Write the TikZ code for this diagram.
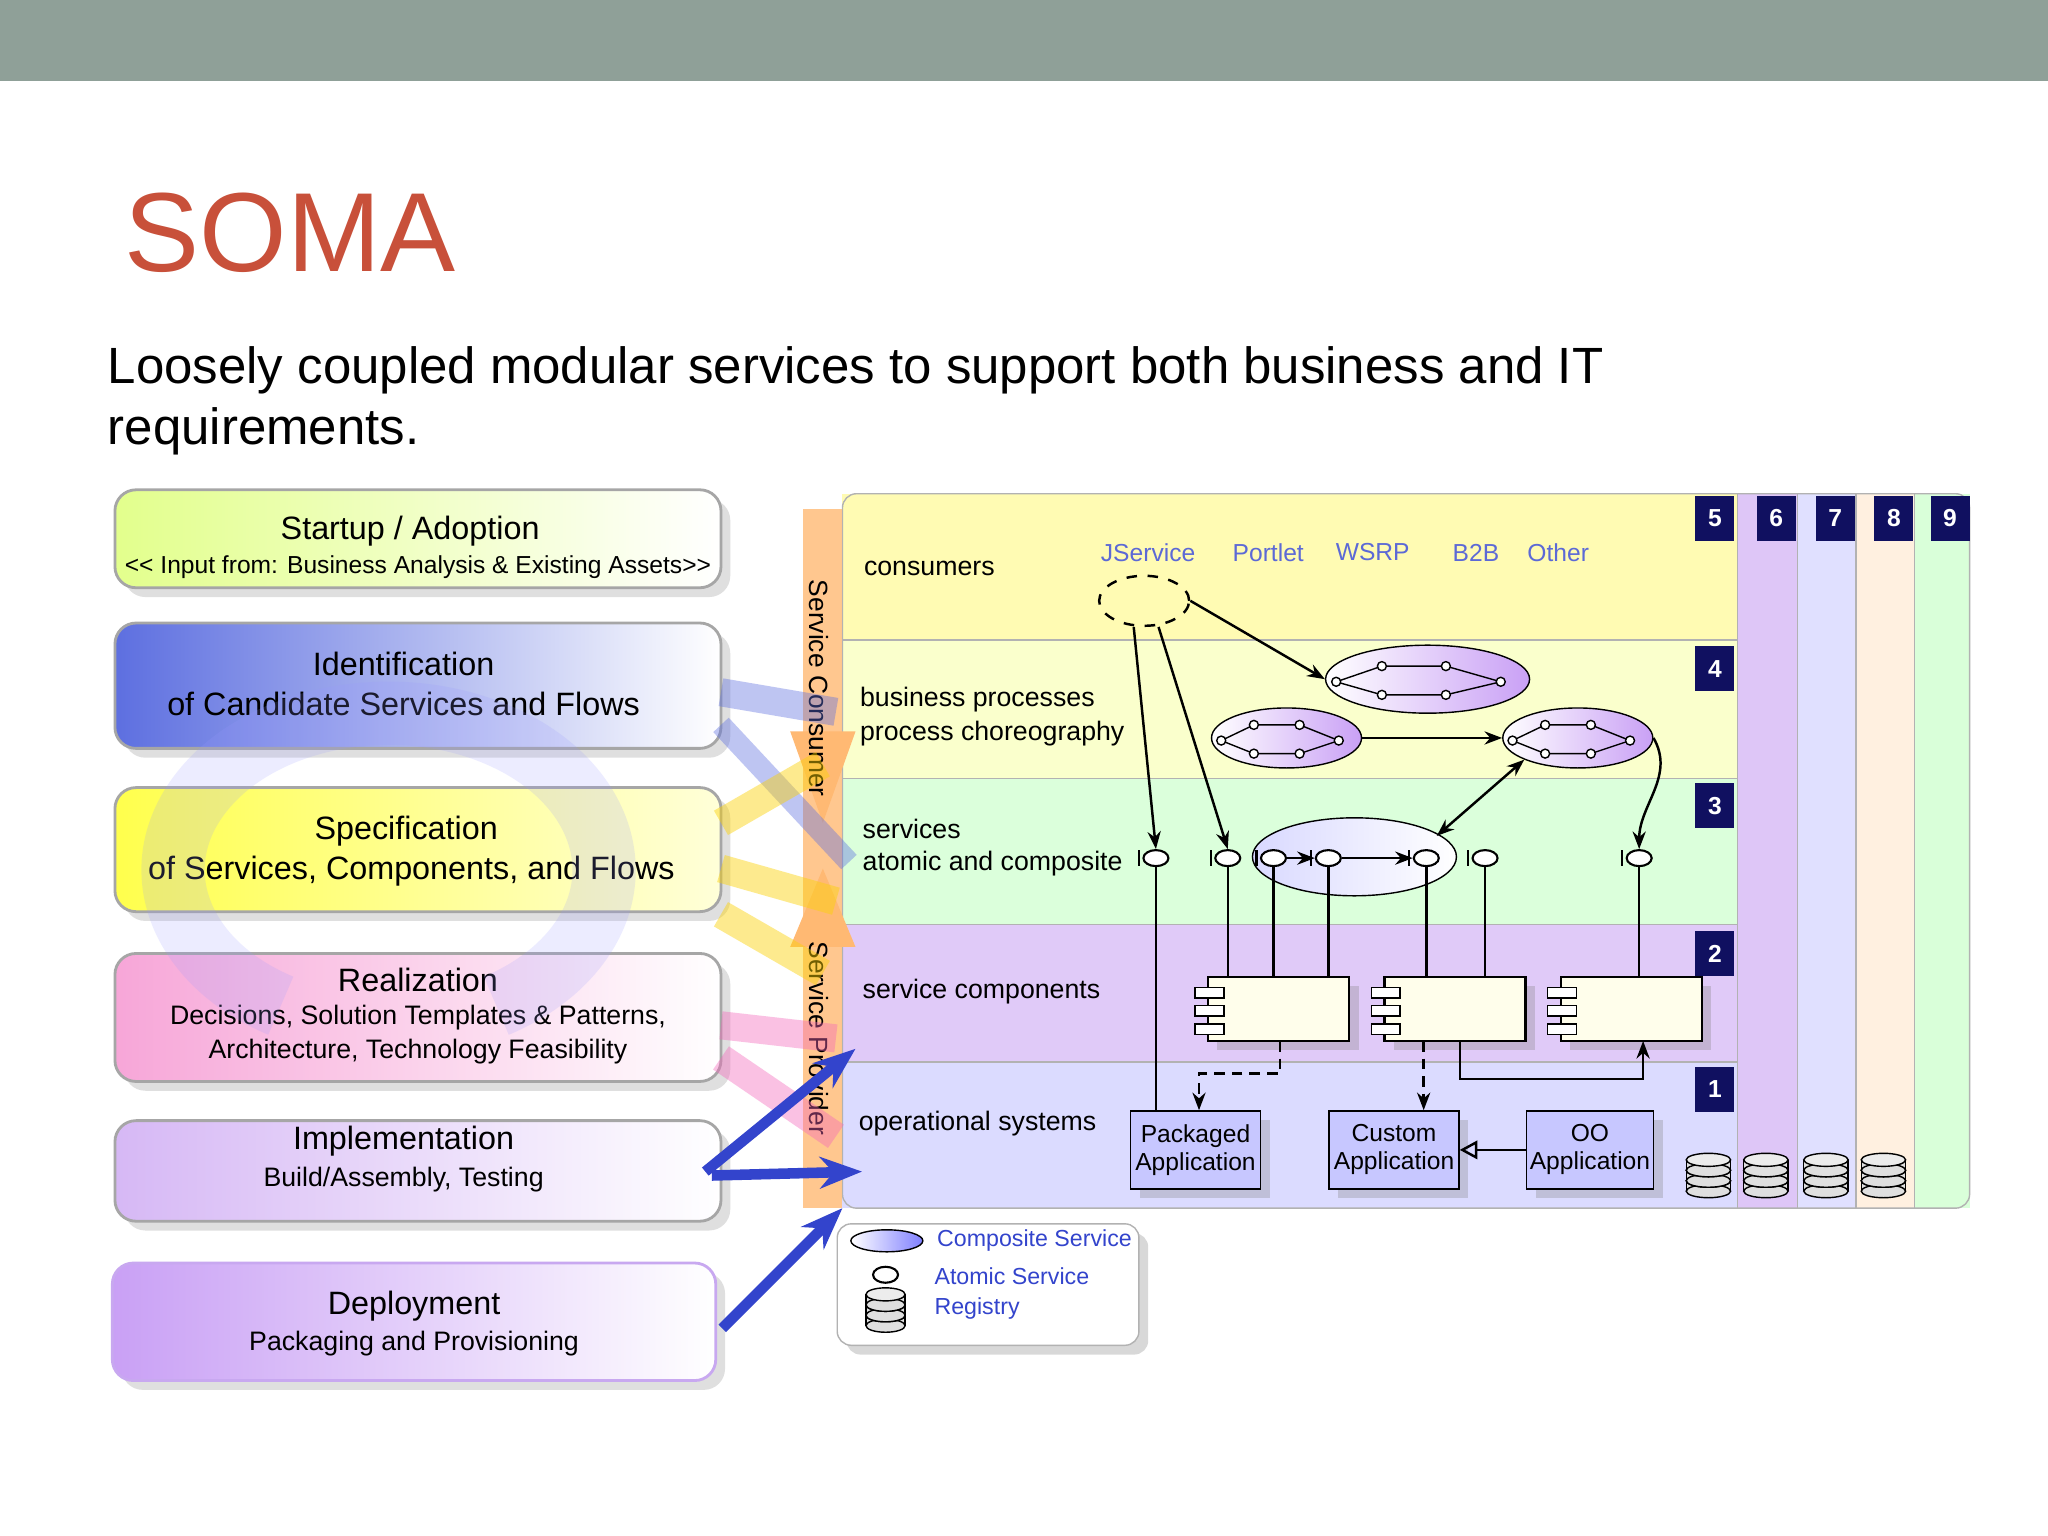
\documentclass[tikz,border=0pt]{standalone}
\usepackage{fontspec}
\setmainfont{Liberation Sans}
\usetikzlibrary{arrows.meta,shapes.geometric,shadows}
\definecolor{bar}{HTML}{8FA098}
\definecolor{soma}{HTML}{C8503A}
\definecolor{navy}{HTML}{101060}
\definecolor{lblue}{HTML}{3344CC}
\definecolor{lav}{HTML}{D6B8F5}
\definecolor{lavd}{HTML}{C9A0F5}
\definecolor{idb}{HTML}{5D6FE0}
\definecolor{pk}{HTML}{F7A6D8}
\definecolor{purp}{HTML}{C8A8F0}
\begin{document}
\begin{tikzpicture}[x=0.013061cm,y=-0.013061cm,
  lbox/.style={draw=gray!70,rounded corners=6pt,line width=0.8pt,drop shadow={opacity=0.25}},
  big/.style={font=\fontsize{9.2}{11}\selectfont},
  sml/.style={font=\fontsize{7.6}{9}\selectfont},
  dl/.style={font=\fontsize{7.6}{9}\selectfont,anchor=west},
  bl/.style={font=\fontsize{7}{8}\selectfont,text=lblue!80},
  lgt/.style={font=\fontsize{6.6}{8}\selectfont,text=lblue,anchor=west},
  tab/.style={fill=navy,text=white,font=\bfseries\fontsize{7}{8}\selectfont,inner sep=0pt,minimum width=0.39cm,minimum height=0.45cm},
  atom/.style={draw,fill=white,ellipse,minimum width=0.25cm,minimum height=0.16cm,inner sep=0pt,line width=0.6pt},
  dot/.style={draw,fill=white,circle,inner sep=0pt,minimum size=0.09cm,line width=0.4pt},
  comp/.style={draw,fill=yellow!8,line width=0.7pt,drop shadow={opacity=0.3}},
  app/.style={draw,fill=blue!22,minimum width=1.3cm,minimum height=0.78cm,drop shadow={opacity=0.3},font=\fontsize{7}{8}\selectfont,align=center,inner sep=1pt,anchor=north west},
  ar/.style={-{Stealth[length=5pt]},line width=0.7pt}]
\useasboundingbox (0,0) rectangle (1568,1176);
\fill[white] (0,0) rectangle (1568,1176);
\fill[bar] (0,0) rectangle (1568,62);
\node[anchor=base west,text=soma,font=\fontsize{32}{38}\selectfont,inner sep=0] (t) at (95,208) {SOMA};
\node[anchor=base west,font=\fontsize{14.5}{17}\selectfont,inner sep=0] (s1) at (82,294) {Loosely coupled modular services to support both business and IT};
\node[anchor=base west,font=\fontsize{14.5}{17}\selectfont,inner sep=0] (s2) at (82,340) {requirements.};
% left boxes
\draw[lbox,left color=green!25!yellow!45,right color=white] (88,375) rectangle (552,450);
\node[big] (b1) at (314,407) {Startup / Adoption};
\node[font=\fontsize{7}{8}\selectfont] (b1s) at (320,434) {{<}{<} Input from: Business Analysis \& Existing Assets{>}{>}};
\draw[lbox,left color=idb,right color=white] (88,477) rectangle (552,573);
\node[big] (b2) at (309,508) {Identification};
\node[big] (b2s) at (309,539) {of Candidate Services and Flows};
\draw[lbox,left color=yellow!70,right color=yellow!15] (88,603) rectangle (552,698);
\node[big] (b3) at (311,636) {Specification};
\node[big] (b3s) at (315,667) {of Services, Components, and Flows};
\draw[lbox,left color=pk,right color=white] (88,730) rectangle (552,828);
\node[big] (b4) at (320,750) {Realization};
\node[sml] (b4s) at (320,779) {Decisions, Solution Templates \& Patterns,};
\node[sml] (b4t) at (320,805) {Architecture, Technology Feasibility};
\draw[lbox,left color=lav,right color=white] (88,858) rectangle (552,935);
\node[big] (b5) at (309,874) {Implementation};
\node[sml] (b5s) at (309,903) {Build/Assembly, Testing};
\draw[lbox,draw=purp,left color=lavd,right color=white] (86,967) rectangle (548,1057);
\node[big] (b6) at (317,1000) {Deployment};
\node[sml] (b6s) at (317,1029) {Packaging and Provisioning};
\draw[blue!40,opacity=0.18,line width=18pt] (215,770) arc[start angle=120,end angle=420,x radius=165,y radius=120];
% columns
\fill[lav!80] (1330,378) rectangle (1376,925);
\fill[blue!12] (1376,378) rectangle (1421,925);
\fill[orange!12] (1421,378) rectangle (1466,925);
\fill[green!15] (1466,378) rectangle (1508,925);
\draw[gray!60] (1330,378) -- (1330,925) (1376,378)--(1376,925) (1421,378)--(1421,925) (1466,378)--(1466,925);
% layers
\fill[yellow!30] (645,378) rectangle (1330,490);
\fill[green!10!yellow!20] (645,490) rectangle (1330,596);
\fill[green!14] (645,596) rectangle (1330,708);
\fill[lav!75] (645,708) rectangle (1330,813);
\fill[blue!14] (645,813) rectangle (1330,925);
\draw[gray!60] (645,490)--(1330,490) (645,596)--(1330,596) (645,708)--(1330,708) (645,813)--(1330,813);
\draw[gray!60,rounded corners=4pt] (645,378) rectangle (1508,925);
% orange bar
\fill[orange!55,opacity=0.8] (615,390) rectangle (645,925);
\fill[orange!55] (605,560) -- (655,560) -- (630,630) -- cycle;
\fill[orange!55] (605,725) -- (655,725) -- (630,665) -- cycle;
\node[rotate=-90,font=\fontsize{7.5}{9}\selectfont] (sc) at (627,527) {Service Consumer};
\node[rotate=-90,font=\fontsize{7.5}{9}\selectfont] (sp) at (627,795) {Service Provider};
% pale arrows
\draw[idb,opacity=0.4,line width=8pt] (552,530) -- (640,545);
\draw[idb,opacity=0.4,line width=6pt] (552,555) -- (650,660);
\draw[yellow!70!orange,opacity=0.45,line width=8pt] (552,630) -- (630,585);
\draw[yellow!70!orange,opacity=0.45,line width=8pt] (552,665) -- (640,690);
\draw[yellow!70!orange,opacity=0.45,line width=8pt] (552,700) -- (630,745);
\draw[magenta!60,opacity=0.4,line width=8pt] (552,785) -- (640,795);
\draw[magenta!60,opacity=0.4,line width=8pt] (552,810) -- (640,870);
% tabs
\foreach \n/\x/\y in {5/1313/397,6/1360/397,7/1405/397,8/1450/397,9/1493/397,4/1313/512,3/1313/617,2/1313/730,1/1313/834}
  \node[tab] (tab\n) at (\x,\y) {\n};
% labels
\node[dl] (l1) at (652,435) {consumers};
\node[dl] (l2) at (649,536) {business processes};
\node[dl] (l2b) at (649,562) {process choreography};
\node[dl] (l3) at (651,635) {services};
\node[dl] (l3b) at (651,661) {atomic and composite};
\node[dl] (l4) at (651,759) {service components};
\node[dl] (l5) at (648,860) {operational systems};
\node[bl] (c1) at (879,423) {JService};
\node[bl] (c2) at (971,423) {Portlet};
\node[bl] (c3) at (1051,423) {WSRP};
\node[bl] (c4) at (1130,423) {B2B};
\node[bl] (c5) at (1193,423) {Other};
\node[draw,dashed,ellipse,minimum width=0.9cm,minimum height=0.5cm,line width=0.7pt] (ce) at (876,460) {};
% process ellipses
\node[draw,ellipse,left color=white,right color=lavd,minimum width=2.04cm,minimum height=0.68cm] (p1) at (1093,520) {};
\node[draw,ellipse,left color=white,right color=lavd,minimum width=1.5cm,minimum height=0.6cm] (p2) at (985,565) {};
\node[draw,ellipse,left color=white,right color=lavd,minimum width=1.5cm,minimum height=0.6cm] (p3) at (1208,565) {};
\foreach \cx/\cy/\w in {1093/520/1.4,985/565/1,1208/565/1}{
 \draw[-{Stealth[length=3pt]},line width=0.4pt] (\cx-50*\w,\cy+2) -- (\cx-25*\w,\cy-10) -- (\cx+10*\w,\cy-10) -- (\cx+40*\w,\cy+2) -- (\cx+10*\w,\cy+12) -- (\cx-25*\w,\cy+12) -- cycle;
 \foreach \px/\py in {-50/2,-25/-10,10/-10,40/2,10/12,-25/12} \node[dot] at (\cx+\px*\w,\cy+\py) {};
}
% composite service
\node[draw,ellipse,left color=blue!15,right color=white,minimum width=2.04cm,minimum height=0.78cm] (cs) at (1037,656) {};
\foreach \i/\x in {a/885,b/940,c/975,d/1017,e/1092,f/1137,g/1255}{
 \node[atom] (s\i) at (\x,657) {};
 \draw[line width=0.6pt] (\x-13,651) -- (\x-13,663);
}
\draw[ar] (sd) -- (se);
\draw[ar] (sc) -- (sd);
% components
\foreach \i/\x in {1/925,2/1060,3/1195}{
 \draw[comp] (\x,748) rectangle (\x+108,797);
 \draw[fill=white] (\x-10,756) rectangle (\x+12,764);
 \draw[fill=white] (\x-10,770) rectangle (\x+12,778);
 \draw[fill=white] (\x-10,784) rectangle (\x+12,792);
}
% operational apps
\node[app] (pa) at (865,850) {Packaged\\Application};
\node[app] (ca) at (1017,850) {Custom\\Application};
\node[app,minimum width=1.25cm] (oa) at (1168,850) {OO\\Application};
% connectors
\draw[ar] (868,480) -- (sa.north);
\draw[ar] (887,480) -- (sb.north);
\draw[ar] (ce.east) -- (p1.west);
\draw[ar] (p2.east) -- (p3.west);
\draw[{Stealth[length=5pt]}-{Stealth[length=5pt]},line width=0.7pt] (p3.south west) -- (1100,640);
\draw[ar] (p3.east) to[out=-60,in=90] (sg.north);
\draw[line width=0.7pt] (sa) -- (885,850);
\foreach \s/\x in {b/940,c/975,d/1017,e/1092,f/1137,g/1255} \draw[line width=0.7pt] (s\s) -- (\x,748);
\draw[ar,densely dashed] (980,797) -- (980,822) -- (918,822) -- (918,850);
\draw[ar,densely dashed] (1090,797) -- (1090,850);
\draw[ar] (1118,797) -- (1118,826) -- (1258,826) -- (1258,797);
\draw[-{Triangle[open,length=5pt]},line width=0.7pt] (oa.west) -- (ca.east);
% blue arrows
\draw[-{Stealth[length=12pt]},lblue,line width=3pt] (540,897) -- (655,803);
\draw[-{Stealth[length=12pt]},lblue,line width=3pt] (545,900) -- (660,897);
\draw[-{Stealth[length=12pt]},lblue,line width=3pt] (553,1017) -- (645,925);
% legend
\draw[gray!60,fill=white,rounded corners=4pt,drop shadow={opacity=0.3}] (641,937) rectangle (872,1030);
\node[draw,ellipse,left color=white,right color=blue!50,minimum width=0.72cm,minimum height=0.22cm,inner sep=0] (lg1) at (679,950) {};
\node[atom] (lg2) at (678,976) {};
\node[lgt] (lt1) at (708,950) {Composite Service};
\node[lgt] (lt2) at (706,977) {Atomic Service};
\node[lgt] (lt3) at (706,1002) {Registry};
% registries
\foreach \x/\yy/\r in {1308/900/17,1352/900/17,1398/900/17,1442/900/17,678/1003/15}{
 \foreach \d in {8,0,-8}{
  \fill[gray!25] (\x-\r,\yy+\d-4) rectangle (\x+\r,\yy+\d+4);
  \draw (\x-\r,\yy+\d-4) -- (\x-\r,\yy+\d+4) (\x+\r,\yy+\d-4) -- (\x+\r,\yy+\d+4);
  \draw[fill=gray!25] (\x,\yy+\d+4) ellipse[x radius=\r,y radius=5];
  \draw[fill=gray!15] (\x,\yy+\d-4) ellipse[x radius=\r,y radius=5];
 }
}
\end{tikzpicture}
\end{document}
